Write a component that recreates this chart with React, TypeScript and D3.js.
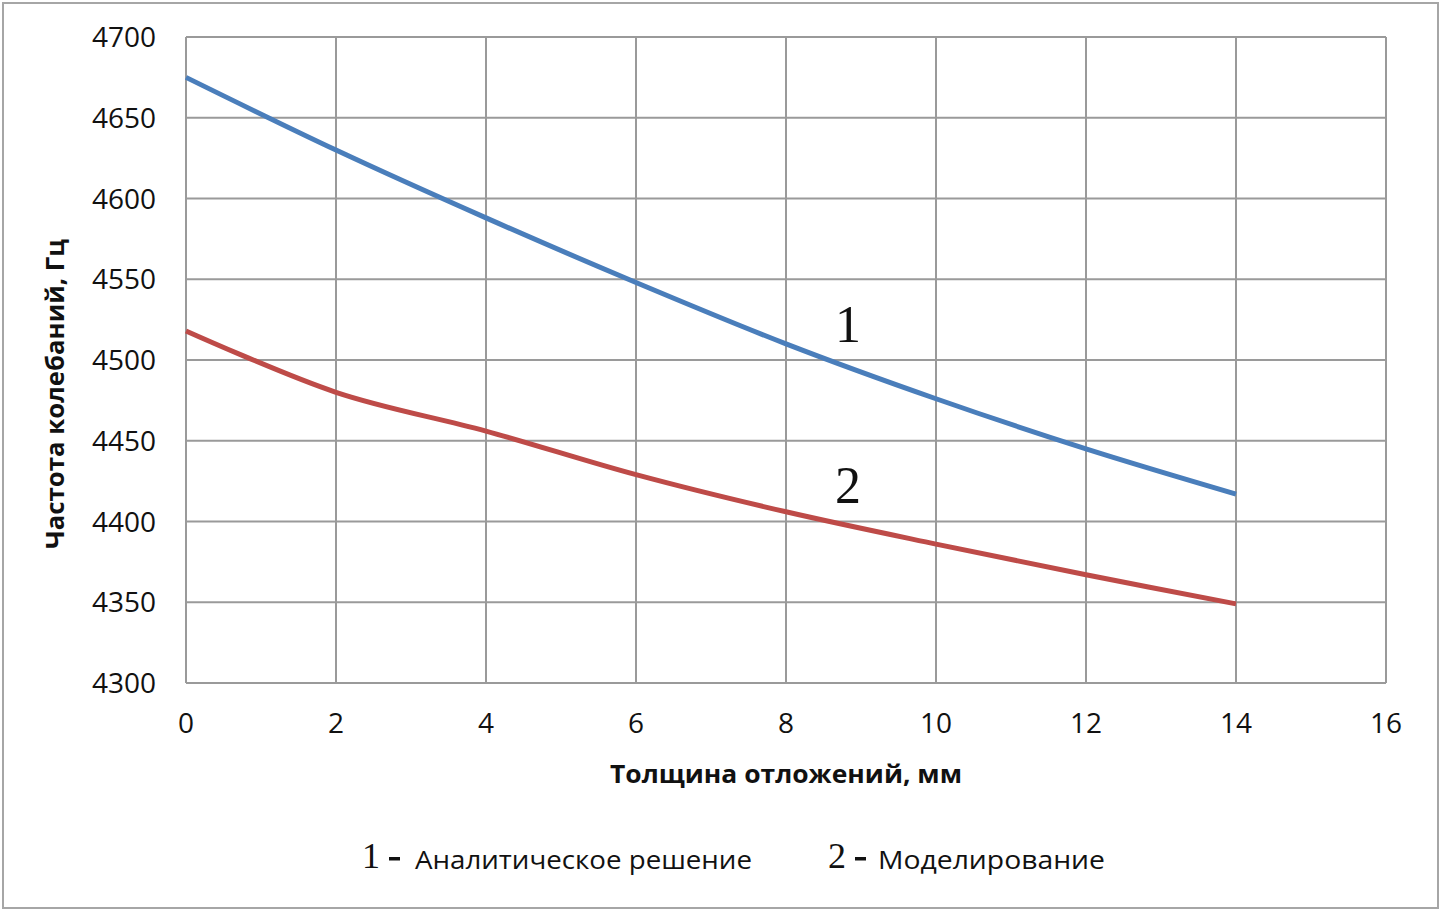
import React, { useEffect, useRef } from "react";
import * as d3 from "d3";

// Deposit thickness, mm
const thickness = [0, 2, 4, 6, 8, 10, 12, 14];
// Natural frequency, Hz — analytical solution (curve 1)
const analytic = [4675, 4630, 4588, 4548, 4510, 4476, 4445, 4417];
// Natural frequency, Hz — numerical modelling (curve 2)
const modeling = [4518, 4480, 4456, 4429, 4406, 4386, 4367, 4349];

const xTicks = [0, 2, 4, 6, 8, 10, 12, 14, 16];
const yTicks = [4300, 4350, 4400, 4450, 4500, 4550, 4600, 4650, 4700];

const xTitle = "Толщина отложений, мм";
const yTitle = "Частота колебаний, Гц";
const legendNames = ["Аналитическое решение", "Моделирование"];

const W = 1442;
const H = 912;
const M = { left: 186, right: 1386, top: 37, bottom: 683 };

const SANS = "'Open Sans', 'Noto Sans', sans-serif";
const SERIF = "'Liberation Serif', 'DejaVu Serif', serif";
const GRID = "#9a9a9a";
const BLUE = "#4a7ebb";
const RED = "#be4b48";

export default function App() {
  const ref = useRef<SVGSVGElement | null>(null);

  useEffect(() => {
    const svg = d3.select(ref.current);
    svg.selectAll("*").remove();

    const x = d3.scaleLinear().domain([0, 16]).range([M.left, M.right]);
    const y = d3.scaleLinear().domain([4300, 4700]).range([M.bottom, M.top]);

    svg
      .append("rect")
      .attr("x", 0)
      .attr("y", 0)
      .attr("width", W)
      .attr("height", H)
      .attr("fill", "#fff");

    // chart area frame
    svg
      .append("rect")
      .attr("x", 3)
      .attr("y", 3)
      .attr("width", 1435)
      .attr("height", 905)
      .attr("fill", "none")
      .attr("stroke", "#a6a6a6")
      .attr("stroke-width", 2);

    const grid = svg.append("g");
    yTicks.forEach((t) => {
      grid
        .append("line")
        .attr("x1", M.left)
        .attr("x2", M.right)
        .attr("y1", y(t))
        .attr("y2", y(t))
        .attr("stroke", GRID)
        .attr("stroke-width", 2);
    });
    xTicks.forEach((t) => {
      grid
        .append("line")
        .attr("x1", x(t))
        .attr("x2", x(t))
        .attr("y1", M.top)
        .attr("y2", M.bottom)
        .attr("stroke", GRID)
        .attr("stroke-width", 2);
    });

    // tick labels
    yTicks.forEach((t) => {
      svg
        .append("text")
        .attr("x", 156)
        .attr("y", y(t) + 10)
        .attr("text-anchor", "end")
        .attr("font-family", SANS)
        .attr("font-size", 28)
        .attr("fill", "#111")
        .text(String(t));
    });
    xTicks.forEach((t) => {
      svg
        .append("text")
        .attr("x", x(t))
        .attr("y", 733)
        .attr("text-anchor", "middle")
        .attr("font-family", SANS)
        .attr("font-size", 28)
        .attr("fill", "#111")
        .text(String(t));
    });

    // axis titles
    svg
      .append("text")
      .attr("x", 786)
      .attr("y", 783)
      .attr("text-anchor", "middle")
      .attr("font-family", SANS)
      .attr("font-weight", "bold")
      .attr("font-size", 25)
      .attr("textLength", 352)
      .attr("lengthAdjust", "spacingAndGlyphs")
      .attr("fill", "#111")
      .text(xTitle);

    svg
      .append("text")
      .attr("transform", "translate(64,394) rotate(-90)")
      .attr("text-anchor", "middle")
      .attr("font-family", SANS)
      .attr("font-weight", "bold")
      .attr("font-size", 25)
      .attr("textLength", 310)
      .attr("lengthAdjust", "spacingAndGlyphs")
      .attr("fill", "#111")
      .text(yTitle);

    // curves
    const line = d3
      .line<number>()
      .x((_, i) => x(thickness[i]))
      .y((d) => y(d))
      .curve(d3.curveCardinal.tension(0));

    svg
      .append("path")
      .attr("d", line(analytic) || "")
      .attr("fill", "none")
      .attr("stroke", BLUE)
      .attr("stroke-width", 5);

    svg
      .append("path")
      .attr("d", line(modeling) || "")
      .attr("fill", "none")
      .attr("stroke", RED)
      .attr("stroke-width", 5);

    // curve numbers
    svg
      .append("text")
      .attr("x", 848)
      .attr("y", 342)
      .attr("text-anchor", "middle")
      .attr("font-family", SERIF)
      .attr("font-size", 52)
      .attr("fill", "#111")
      .text("1");
    svg
      .append("text")
      .attr("x", 848)
      .attr("y", 503)
      .attr("text-anchor", "middle")
      .attr("font-family", SERIF)
      .attr("font-size", 52)
      .attr("fill", "#111")
      .text("2");

    // legend
    const legend = [
      { num: "1", nx: 371, dx: 389, tx: 415, tl: 337, name: legendNames[0] },
      { num: "2", nx: 837, dx: 855, tx: 878, tl: 227, name: legendNames[1] },
    ];
    legend.forEach((l) => {
      svg
        .append("text")
        .attr("x", l.nx)
        .attr("y", 868)
        .attr("text-anchor", "middle")
        .attr("font-family", SERIF)
        .attr("font-size", 36)
        .attr("fill", "#111")
        .text(l.num);
      svg
        .append("rect")
        .attr("x", l.dx)
        .attr("y", 857)
        .attr("width", 11)
        .attr("height", 3.5)
        .attr("fill", "#111");
      svg
        .append("text")
        .attr("x", l.tx)
        .attr("y", 869)
        .attr("font-family", SANS)
        .attr("font-size", 25)
        .attr("textLength", l.tl)
        .attr("lengthAdjust", "spacingAndGlyphs")
        .attr("fill", "#111")
        .text(l.name);
    });
  }, []);

  return (
    <svg
      ref={ref}
      width={W}
      height={H}
      style={{ position: "absolute", left: 0, top: 0, display: "block" }}
    />
  );
}
